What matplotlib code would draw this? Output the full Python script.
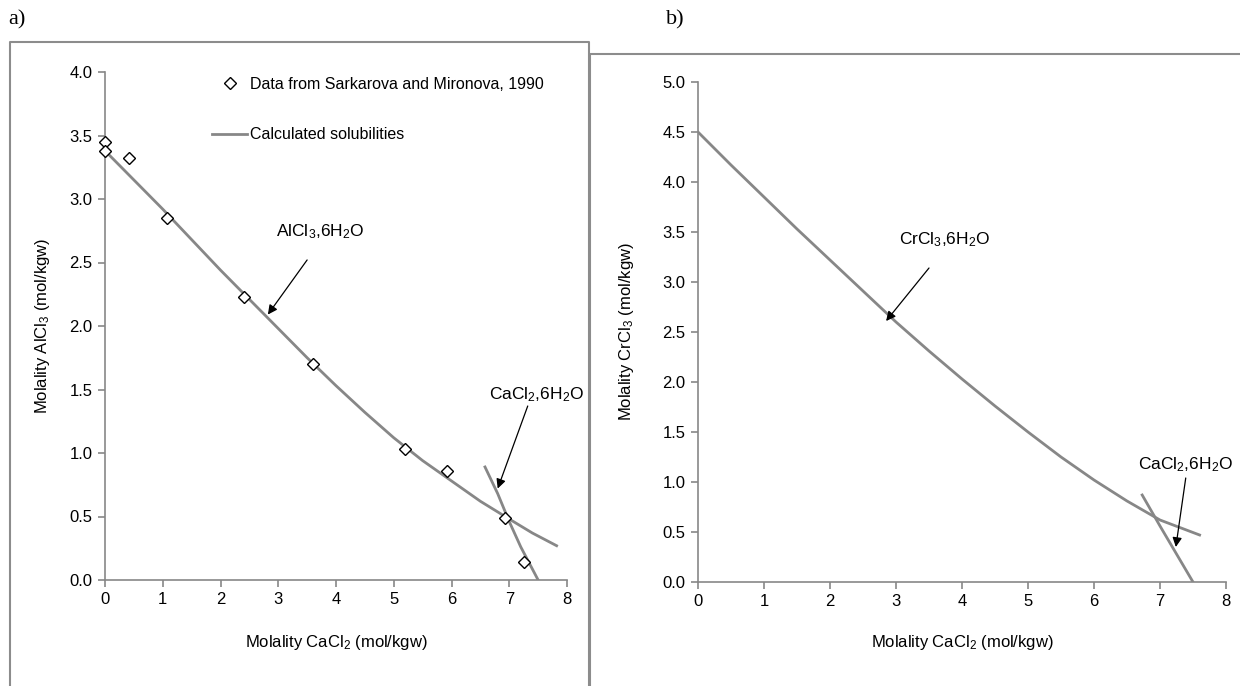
import numpy as np
import matplotlib
matplotlib.use("Agg")
import matplotlib.pyplot as plt
from matplotlib.lines import Line2D

plt.rcParams['font.family'] = ['Liberation Sans', 'DejaVu Sans']
plt.rcParams['mathtext.fontset'] = 'custom'
plt.rcParams['mathtext.rm'] = 'Liberation Sans'

# panel a: AlCl3 - CaCl2 - H2O
exp_cacl2 = [0.0, 0.0, 0.42, 1.07, 2.40, 3.60, 5.20, 5.92, 6.93, 7.25]
exp_alcl3 = [3.45, 3.38, 3.32, 2.85, 2.23, 1.70, 1.03, 0.86, 0.49, 0.14]

calc_a_cacl2 = [0.0, 0.5, 1.0, 1.5, 2.0, 2.5, 3.0, 3.5, 4.0, 4.5, 5.0, 5.5, 6.0, 6.5, 7.0, 7.4, 7.82]
calc_a_alcl3 = [3.38, 3.15, 2.92, 2.68, 2.44, 2.21, 1.98, 1.75, 1.53, 1.32, 1.12, 0.94, 0.78, 0.62, 0.48, 0.37, 0.27]

calc_a2_cacl2 = [6.58, 6.80, 7.00, 7.20, 7.50]
calc_a2_alcl3 = [0.89, 0.68, 0.46, 0.26, 0.0]

# panel b: CrCl3 - CaCl2 - H2O
calc_b_cacl2 = [0.0, 0.5, 1.0, 1.5, 2.0, 2.5, 3.0, 3.5, 4.0, 4.5, 5.0, 5.5, 6.0, 6.5, 7.0, 7.6]
calc_b_crcl3 = [4.50, 4.17, 3.85, 3.53, 3.22, 2.91, 2.60, 2.31, 2.03, 1.76, 1.50, 1.25, 1.02, 0.81, 0.62, 0.47]

calc_b2_cacl2 = [6.73, 7.00, 7.25, 7.50]
calc_b2_crcl3 = [0.87, 0.56, 0.28, 0.0]

grey = '#878787'

fig = plt.figure(figsize=(12.4, 6.86), dpi=100)
W, H = 1240, 686


def fx(px):
    return px / W


def fy(py):
    return 1 - py / H


# outer frames of the two panels
frame = dict(color='#8c8c8c', lw=1.5, transform=fig.transFigure)
fig.add_artist(Line2D([fx(10), fx(10), fx(589), fx(589)], [0, fy(42), fy(42), 0], **frame))
fig.add_artist(Line2D([fx(590), fx(590), 1], [0, fy(54), fy(54)], **frame))

fig.text(fx(8), fy(20), 'a)', family='Liberation Serif', fontsize=16, va='center', ha='left')
fig.text(fx(666), fy(20), 'b)', family='Liberation Serif', fontsize=16, va='center', ha='left')

ax1 = fig.add_axes([fx(105), fy(580), fx(567) - fx(105), fy(72) - fy(580)])
ax2 = fig.add_axes([fx(698), fy(582), fx(1226) - fx(698), fy(82) - fy(582)])


def style(ax, ymax):
    ax.set_xlim(0, 8)
    ax.set_ylim(0, ymax)
    ax.set_xticks(range(0, 9))
    ax.set_yticks(np.arange(0, ymax + 0.01, 0.5))
    ax.set_yticklabels(['%.1f' % v for v in np.arange(0, ymax + 0.01, 0.5)])
    for s in ['top', 'right']:
        ax.spines[s].set_visible(False)
    for s in ['left', 'bottom']:
        ax.spines[s].set_color(grey)
        ax.spines[s].set_linewidth(1.2)
    ax.tick_params(direction='out', length=5, width=1.2, color=grey, labelsize=12, pad=4)
    ax.patch.set_alpha(0)


style(ax1, 4.0)
style(ax2, 5.0)

ax1.plot(calc_a_cacl2, calc_a_alcl3, color=grey, lw=2, label='Calculated solubilities', zorder=2)
ax1.plot(calc_a2_cacl2, calc_a2_alcl3, color=grey, lw=2, zorder=2)
ax1.plot(exp_cacl2, exp_alcl3, ls='none', marker='D', ms=6.5, mfc='white', mec='black', mew=1,
         label='Data from Sarkarova and Mironova, 1990', zorder=3, clip_on=False)

handles, labels = ax1.get_legend_handles_labels()
ax1.legend(handles[::-1], labels[::-1], loc='upper left', bbox_to_anchor=(0.232, 0.99),
           frameon=False, fontsize=11.5, labelspacing=2.2, handlelength=2.2,
           handletextpad=0.15, borderpad=0, borderaxespad=0)

ax2.plot(calc_b_cacl2, calc_b_crcl3, color=grey, lw=2, zorder=2)
ax2.plot(calc_b2_cacl2, calc_b2_crcl3, color=grey, lw=2, zorder=2)

arrow = dict(arrowstyle='-|>', color='black', lw=0.9, mutation_scale=14, shrinkA=0, shrinkB=0)
ax1.annotate('', xy=(2.82, 2.09), xytext=(3.5, 2.52), arrowprops=arrow)
ax1.text(3.72, 2.74, r'AlCl$\mathregular{_3}$,6H$\mathregular{_2}$O', ha='center', va='center', fontsize=12.5)
ax1.annotate('', xy=(6.8, 0.72), xytext=(7.32, 1.37), arrowprops=arrow)
ax1.text(7.48, 1.46, r'CaCl$\mathregular{_2}$,6H$\mathregular{_2}$O', ha='center', va='center', fontsize=12.5)

ax2.annotate('', xy=(2.85, 2.61), xytext=(3.5, 3.14), arrowprops=arrow)
ax2.text(3.74, 3.42, r'CrCl$\mathregular{_3}$,6H$\mathregular{_2}$O', ha='center', va='center', fontsize=12.5)
ax2.annotate('', xy=(7.24, 0.35), xytext=(7.39, 1.04), arrowprops=arrow)
ax2.text(7.38, 1.17, r'CaCl$\mathregular{_2}$,6H$\mathregular{_2}$O', ha='center', va='center', fontsize=12.5)

ax1.set_xlabel(r'Molality CaCl$\mathregular{_2}$ (mol/kgw)', fontsize=12)
ax1.set_ylabel(r'Molality AlCl$\mathregular{_3}$ (mol/kgw)', fontsize=12)
ax1.xaxis.set_label_coords(0.5, -0.104)
ax1.yaxis.set_label_coords(-0.115, 0.5)

ax2.set_xlabel(r'Molality CaCl$\mathregular{_2}$ (mol/kgw)', fontsize=12)
ax2.set_ylabel(r'Molality CrCl$\mathregular{_3}$ (mol/kgw)', fontsize=12)
ax2.xaxis.set_label_coords(0.5, -0.102)
ax2.yaxis.set_label_coords(-0.117, 0.5)

fig.savefig('out.png', dpi=100)
